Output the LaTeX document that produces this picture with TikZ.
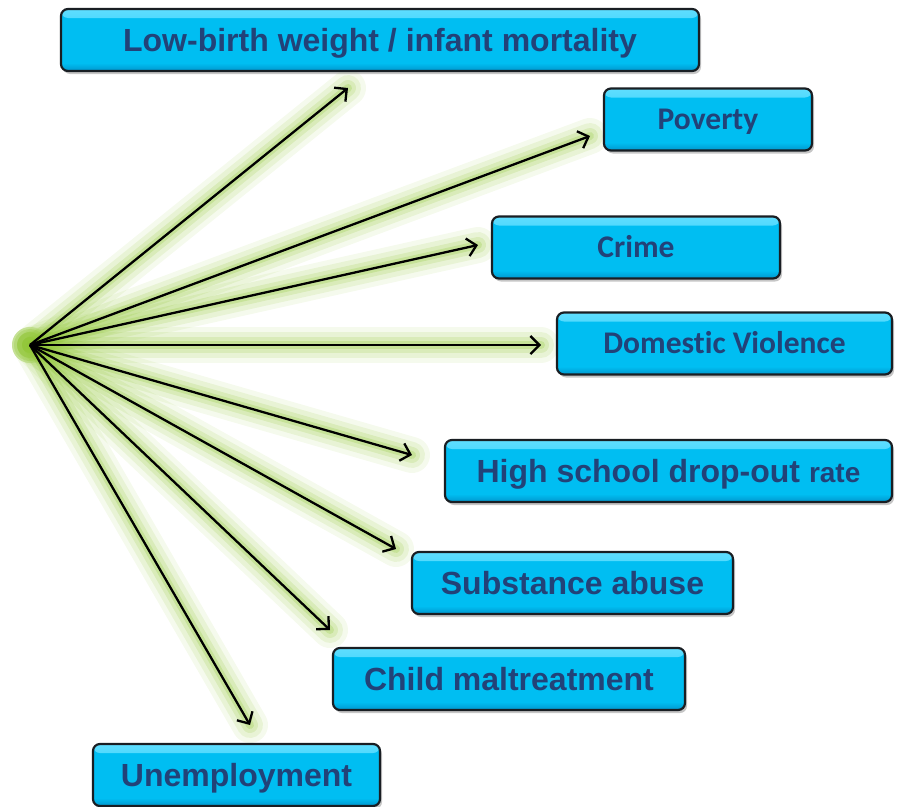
\documentclass[tikz,border=0pt]{standalone}
\usepackage{fontspec}
\setmainfont{Liberation Sans}
\newfontfamily\calibrifont[Ligatures=NoCommon]{Carlito}
\usetikzlibrary{arrows.meta}
\usetikzlibrary{shadows}
\definecolor{box-cyan}{RGB}{0, 190, 242}
\definecolor{box-light}{RGB}{95, 222, 255}
\definecolor{box-dark}{RGB}{0, 150, 205}
\definecolor{box-edge}{RGB}{25, 30, 35}
\definecolor{label-blue}{RGB}{34, 66, 120}
\definecolor{glow-green}{RGB}{145, 198, 55}

\tikzset{
  causebox/.style={draw=box-edge, line width=2.2pt, fill=box-cyan, rounded corners=7pt,
    minimum height=62pt, inner sep=0pt, text=label-blue, text depth=0pt,
    drop shadow={shadow xshift=2pt, shadow yshift=-3pt, opacity=0.45},
    path picture={
      \shade[top color=box-light, bottom color=box-cyan] (path picture bounding box.north west) rectangle ([yshift=-9pt]path picture bounding box.north east);
      \shade[top color=box-cyan, bottom color=box-dark] ([yshift=8pt]path picture bounding box.south west) rectangle (path picture bounding box.south east);
    }},
  arialtext/.style={font=\fontsize{32}{36}\selectfont\bfseries, text height=23pt},
  calibritext/.style={font=\calibrifont\fontsize{31.5}{36}\selectfont\bfseries, text height=20pt},
  glow/.style={glow-green, line cap=round, opacity=#1},
  effect/.style={-{Straight Barb[length=9pt,width=18pt]}, line width=2.3pt, black}
}

\begin{document}
\begin{tikzpicture}[x=1pt, y=-1pt]
\useasboundingbox (0,0) rectangle (897,806);

% where the arrows start and end
\coordinate (src) at (30,345);
\coordinate (t-lbw) at (348,88);
\coordinate (t-poverty) at (590,136);
\coordinate (t-crime) at (478,245);
\coordinate (t-domviol) at (541,345);
\coordinate (t-dropout) at (412,455);
\coordinate (t-subst) at (396,549);
\coordinate (t-maltreat) at (330,630);
\coordinate (t-unemp) at (250,725);

% green glow under the arrows
\fill[glow=0.3] (src) circle (16pt);
\foreach \tip in {t-lbw,t-poverty,t-crime,t-domviol,t-dropout,t-subst,t-maltreat,t-unemp}{
  \draw[glow=0.09, line width=36pt] (src) -- (\tip);
  \draw[glow=0.13, line width=26pt] (src) -- (\tip);
  \draw[glow=0.18, line width=16pt] (src) -- (\tip);
  \draw[glow=0.25, line width=8pt] (src) -- (\tip);
}

\node[causebox, arialtext, minimum width=638pt] (lbw) at (380,40) {Low-birth weight / infant mortality};
\node[causebox, calibritext, minimum width=208pt] (poverty) at (708,119.5) {Poverty};
\node[causebox, calibritext, minimum width=288pt] (crime) at (636,247.5) {Crime};
\node[causebox, calibritext, minimum width=335pt] (domviol) at (724.5,343.5) {Domestic Violence};
\node[causebox, arialtext, minimum width=447pt] (dropout) at (668.5,471) {High school drop-out {\fontsize{28}{32}\selectfont rate}};
\node[causebox, arialtext, minimum width=321pt] (subst) at (572.5,583) {Substance abuse};
\node[causebox, arialtext, minimum width=352pt] (maltreat) at (509,679) {Child maltreatment};
\node[causebox, arialtext, minimum width=287pt] (unemp) at (236.5,775) {Unemployment};

\draw[effect] (src) -- (t-lbw);
\draw[effect] (src) -- (t-poverty);
\draw[effect] (src) -- (t-crime);
\draw[effect] (src) -- (t-domviol);
\draw[effect] (src) -- (t-dropout);
\draw[effect] (src) -- (t-subst);
\draw[effect] (src) -- (t-maltreat);
\draw[effect] (src) -- (t-unemp);

\end{tikzpicture}
\end{document}
